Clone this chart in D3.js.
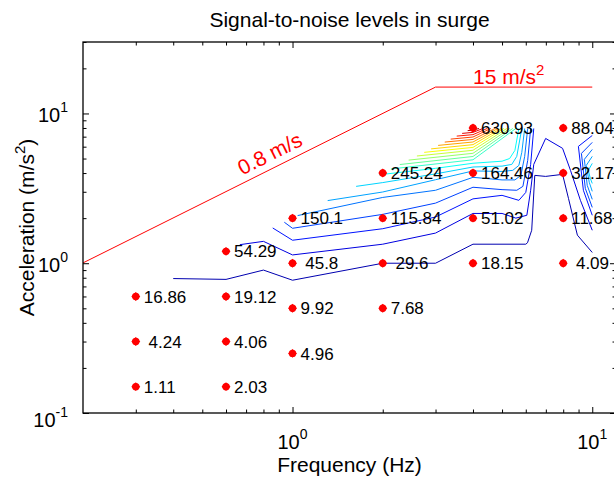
<!DOCTYPE html>
<html>
<head>
<meta charset="utf-8">
<script src="https://cdn.jsdelivr.net/npm/d3@7"></script>
<style>
  html, body { margin: 0; padding: 0; background: #fff; }
  svg { display: block; font-family: "Liberation Sans", Arial, Helvetica, sans-serif; }
</style>
</head>
<body>
<svg id="chart" width="614" height="477"></svg>
<script>
// measured points: frequency (Hz), acceleration (m/s^2), signal-to-noise label
const pointFreq = [0.3, 0.3, 0.3, 0.6, 0.6, 0.6, 0.6, 1, 1, 1, 1, 2, 2, 2, 2, 4, 4, 4, 4, 8, 8, 8, 8];
const pointAcc = [0.15, 0.3, 0.6, 0.15, 0.3, 0.6, 1.2, 0.25, 0.5, 1, 2, 0.5, 1, 2, 4, 1, 2, 4, 8, 1, 2, 4, 8];
const pointSnr = [1.11, 4.24, 16.86, 2.03, 4.06, 19.12, 54.29, 4.96, 9.92, 45.8, 150.1, 7.68, 29.6, 115.84, 245.24,
  18.15, 51.02, 164.46, 630.93, 4.09, 11.68, 32.17, 88.04];
const pointLabels = ["1.11", " 4.24", "16.86", "2.03", "4.06", "19.12", "54.29", "4.96", "9.92", " 45.8", "150.1",
  "7.68", " 29.6", "115.84", "245.24", "18.15", "51.02", "164.46", "630.93", " 4.09", "11.68", "32.17", "88.04"];

// test limit line: constant velocity 0.8 m/s, then 15 m/s^2 cap
const limitFreq = [0.2, 3, 10];
const limitAcc = [1.005, 15, 15];

// contour levels of the signal-to-noise ratio
const contourLevels = [30, 60, 90, 120, 150, 180, 210, 240, 270, 300, 330, 360, 390, 420, 450, 480, 510, 540, 570, 600];

// contour vertices [frequency, acceleration]
const contourLines = [
  [[0.4, 0.79], [0.6, 0.78], [0.8, 0.9], [1, 0.77], [2, 1.0], [3, 1.0], [4, 1.34], [6, 1.34], [6.08, 1.37], [6.28, 1.66],
   [6.43, 3.86], [6.99, 3.80], [7.96, 3.92], [8.33, 2.71], [8.92, 1.54], [10, 1.18]],
  [[0.667, 1.33], [0.8, 1.40], [1, 1.136], [2, 1.34], [3, 1.59], [4, 2.15], [5, 2.15], [5.56, 2.0], [6.05, 2.09],
   [6.23, 3.07], [6.38, 4.57], [6.99, 6.81], [7.96, 5.85], [8.46, 4.17], [9.13, 2.63], [10, 1.66]],
  [[0.859, 1.72], [1, 1.424], [2, 1.70], [3, 2.035], [4, 2.69], [5, 2.84], [5.69, 2.63], [6.0, 2.97], [6.23, 4.57], [6.38, 7.94]],
  [[0.939, 1.878], [1, 1.711], [2, 2.12], [3, 2.52], [4, 3.216], [5, 3.1], [5.6, 3.07], [5.87, 3.26], [6.09, 4.86], [6.23, 7.94]],
  [[1.04, 2.08], [2, 2.75], [3, 3.07], [4, 3.745], [5, 3.6], [5.52, 3.6], [5.78, 3.86], [5.95, 5.17], [6.09, 7.94]],
  [[1.31, 2.62], [2, 2.99], [3, 3.61], [4, 4.133], [5, 4.1], [5.43, 4.17], [5.69, 4.5], [5.82, 5.5], [5.95, 7.94]],
  [[1.63, 3.26], [2, 3.455], [3, 3.95], [4, 4.39], [5, 4.45], [5.39, 4.57], [5.6, 5.17], [5.82, 7.94]],
  [[1.945, 3.89], [2, 3.92], [3, 4.3], [4, 4.65], [5, 4.8], [5.3, 5.0], [5.52, 5.67], [5.69, 7.94]],
  [[2.13, 4.26], [4, 4.905], [5.56, 7.94]],
  [[2.28, 4.56], [4, 5.162], [5.43, 7.94]],
  [[2.44, 4.88], [4, 5.419], [5.31, 7.94]],
  [[2.6, 5.2], [4, 5.677], [5.19, 7.94]],
  [[2.75, 5.5], [4, 5.934], [5.07, 7.94]],
  [[2.9, 5.8], [4, 6.191], [4.96, 7.94]],
  [[3.06, 6.12], [4, 6.448], [4.85, 7.94]],
  [[3.22, 6.44], [4, 6.706], [4.74, 7.94]],
  [[3.37, 6.74], [4, 6.963], [4.59, 7.94]],
  [[3.53, 7.06], [4, 7.22], [4.46, 7.94]],
  [[3.68, 7.36], [4, 7.477], [4.32, 7.94]],
  [[3.84, 7.68], [4, 7.735], [4.19, 7.94]]
];

// small closed-off contours against the 10 Hz edge
const edgeLevels = [90, 120, 150, 180, 210];
const edgeLines = [
  [[10, 7.13], [8.99, 6.03], [9.34, 3.07], [10, 2.09]],
  [[10, 6.41], [9.20, 5.41], [9.48, 3.16], [10, 2.36]],
  [[10, 5.75], [9.41, 4.94], [9.62, 3.31], [10, 2.67]],
  [[10, 5.17], [9.55, 4.50], [9.77, 3.47], [10, 3.02]],
  [[10, 4.64], [9.70, 4.17], [9.85, 3.69], [10, 3.41]]
];

const xMajor = [1, 10];
const xMinor = [0.3, 0.4, 0.5, 0.6, 0.7, 0.8, 0.9, 2, 3, 4, 5, 6, 7, 8, 9];
const yMajor = [0.1, 1, 10];
const yMinor = [0.2, 0.3, 0.4, 0.5, 0.6, 0.7, 0.8, 0.9, 2, 3, 4, 5, 6, 7, 8, 9, 20, 30];

const width = 614;
const height = 477;
const margin = { top: 42, right: -2, bottom: 64, left: 83 };

const svg = d3.select("#chart");

const x = d3.scaleLog().domain([0.2, 12]).range([margin.left, width - margin.right]);
const y = d3.scaleLog().domain([0.1, 30]).range([height - margin.bottom, margin.top]);

function jet(t) {
  const c = (v) => Math.max(0, Math.min(1, v));
  const r = c(1.5 - Math.abs(4 * t - 3));
  const g = c(1.5 - Math.abs(4 * t - 2));
  const b = c(1.5 - Math.abs(4 * t - 1));
  return d3.rgb(r * 255, g * 255, b * 255).toString();
}
const zMax = d3.max(pointSnr);

svg.append("defs").append("clipPath").attr("id", "plot-clip")
  .append("rect")
  .attr("x", margin.left).attr("y", margin.top)
  .attr("width", x.range()[1] - margin.left)
  .attr("height", y.range()[0] - margin.top);

const plot = svg.append("g").attr("clip-path", "url(#plot-clip)");
const line = d3.line().x((d) => x(d[0])).y((d) => y(d[1]));

plot.append("g")
  .selectAll("path")
  .data(contourLines)
  .join("path")
  .attr("fill", "none")
  .attr("stroke", (d, i) => jet(contourLevels[i] / zMax))
  .attr("stroke-width", 1)
  .attr("stroke-linejoin", "round")
  .attr("d", line);

plot.append("g")
  .selectAll("path")
  .data(edgeLines)
  .join("path")
  .attr("fill", "none")
  .attr("stroke", (d, i) => jet(edgeLevels[i] / zMax))
  .attr("stroke-width", 1)
  .attr("d", line);

// limit line
const limitPts = limitFreq.map((f, i) => [f, limitAcc[i]]);
plot.append("path")
  .datum(limitPts)
  .attr("fill", "none")
  .attr("stroke", "#ff0000")
  .attr("stroke-width", 1)
  .attr("d", line);

// rotated label along the constant-velocity part
const p0 = [x(limitFreq[0]), y(limitAcc[0])];
const p1 = [x(limitFreq[1]), y(limitAcc[1])];
const angle = Math.atan2(p1[1] - p0[1], p1[0] - p0[0]) * 180 / Math.PI;
const vx = x(0.84), vy = y(5.4);
svg.append("text")
  .attr("x", vx).attr("y", vy)
  .attr("transform", `rotate(${angle}, ${vx}, ${vy})`)
  .attr("text-anchor", "middle")
  .attr("dy", "0.35em")
  .attr("font-size", 21)
  .attr("fill", "#ff0000")
  .text("0.8 m/s");

const capLabel = svg.append("text")
  .attr("x", x(4)).attr("y", y(15) - 3)
  .attr("font-size", 21)
  .attr("fill", "#ff0000");
capLabel.append("tspan").text("15 m/s");
capLabel.append("tspan").attr("dy", -9).attr("font-size", 15).text("2");

// measured points
const points = pointFreq.map((f, i) => ({ f, a: pointAcc[i], label: pointLabels[i] }));
svg.append("g")
  .selectAll("path")
  .data(points)
  .join("path")
  .attr("transform", (d) => `translate(${x(d.f)},${y(d.a)}) rotate(45)`)
  .attr("d", d3.symbol(d3.symbolSquare, 40))
  .attr("fill", "#ff0000");
svg.append("g")
  .selectAll("circle")
  .data(points)
  .join("circle")
  .attr("cx", (d) => x(d.f))
  .attr("cy", (d) => y(d.a))
  .attr("r", 3.7)
  .attr("fill", "#ff0000");

svg.append("g")
  .selectAll("text")
  .data(points)
  .join("text")
  .attr("x", (d) => x(d.f) + 8)
  .attr("y", (d) => y(d.a))
  .attr("dy", "0.36em")
  .attr("font-size", 17)
  .attr("fill", "#000")
  .style("white-space", "pre")
  .text((d) => d.label);

// axes: ticks inside on all four sides
const xb = y.range()[0], xt = margin.top, yl = margin.left, yr = x.range()[1];
function tickAxis(axis, values, size, transform) {
  const g = svg.append("g")
    .attr("transform", transform)
    .call(axis.tickValues(values).tickSize(size).tickFormat(""));
  g.select(".domain").remove();
  g.selectAll("line").attr("stroke", "#000");
}
tickAxis(d3.axisBottom(x), xMajor, -6, `translate(0,${xb})`);
tickAxis(d3.axisBottom(x), xMinor, -3.5, `translate(0,${xb})`);
tickAxis(d3.axisTop(x), xMajor, -6, `translate(0,${xt})`);
tickAxis(d3.axisTop(x), xMinor, -3.5, `translate(0,${xt})`);
tickAxis(d3.axisLeft(y), yMajor, -6, `translate(${yl},0)`);
tickAxis(d3.axisLeft(y), yMinor, -3.5, `translate(${yl},0)`);
tickAxis(d3.axisRight(y), yMajor, -6, `translate(${yr},0)`);
tickAxis(d3.axisRight(y), yMinor, -3.5, `translate(${yr},0)`);

svg.append("rect")
  .attr("x", yl).attr("y", xt)
  .attr("width", yr - yl).attr("height", xb - xt)
  .attr("fill", "none")
  .attr("stroke", "#000")
  .attr("stroke-width", 1.3);

// tick labels as powers of ten
const expOf = (v) => Math.round(Math.log10(v));
const xLab = svg.append("g").selectAll("text").data(xMajor).join("text")
  .attr("x", (d) => x(d))
  .attr("y", 449)
  .attr("text-anchor", "middle")
  .attr("font-size", 20);
xLab.append("tspan").text("10");
xLab.append("tspan").attr("dy", -10).attr("font-size", 14).text((d) => expOf(d));

const yLab = svg.append("g").selectAll("text").data(yMajor).join("text")
  .attr("x", 68)
  .attr("y", (d) => y(d) + (d < 0.5 ? 14 : 9))
  .attr("text-anchor", "end")
  .attr("font-size", 20);
yLab.append("tspan").text("10");
yLab.append("tspan").attr("dy", -10).attr("font-size", 14).text((d) => expOf(d));

// title and axis labels
svg.append("text")
  .attr("x", (yl + yr) / 2).attr("y", 27)
  .attr("text-anchor", "middle")
  .attr("font-size", 21)
  .text("Signal-to-noise levels in surge");

svg.append("text")
  .attr("x", (yl + yr) / 2).attr("y", 472)
  .attr("text-anchor", "middle")
  .attr("font-size", 21)
  .text("Frequency (Hz)");

const yTitle = svg.append("text")
  .attr("transform", `translate(34,${(xt + xb) / 2}) rotate(-90)`)
  .attr("text-anchor", "middle")
  .attr("font-size", 21);
yTitle.append("tspan").text("Acceleration (m/s");
yTitle.append("tspan").attr("dy", -9).attr("font-size", 15).text("2");
yTitle.append("tspan").attr("dy", 9).text(")");
</script>
</body>
</html>
